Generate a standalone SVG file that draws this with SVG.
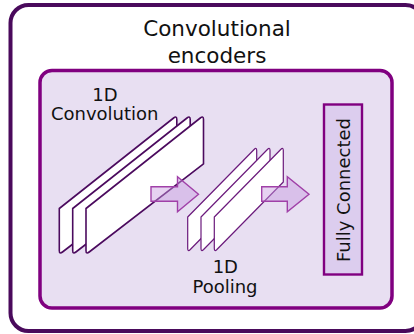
<svg xmlns="http://www.w3.org/2000/svg" width="414" height="334" viewBox="0 0 414 334">
  <style>
    text { font-family: "DejaVu Sans", Verdana, sans-serif; fill: #111; }
    .title { font-size: 21.5px; }
    .label { font-size: 18px; }
    .outer { fill: #ffffff; stroke: #4a0a5c; stroke-width: 4; }
    .inner { fill: #e8dff2; stroke: #800080; stroke-width: 3.5; }
    .conv { fill: #ffffff; stroke: #4b0a5e; stroke-width: 1.6; stroke-linejoin: round; }
    .pool { fill: #ffffff; stroke: #6b1a7c; stroke-width: 1.2; stroke-linejoin: round; }
    .fc { fill: #dccdee; stroke: #800080; stroke-width: 2.4; }
    .arrow { fill: #c79be0; fill-opacity: 0.45; stroke: #a040a8; stroke-width: 1.4; stroke-linejoin: miter; }
  </style>
  <defs>
    <!-- one 1D convolution feature sheet -->
    <path id="convSheet" d="M0,208.5 L0,250.5 Q0,254.5 3.2,252 L117.5,163.9 Q117.5,161.5 117.5,161.5 L117.5,119.5 Q117.5,115.5 114.3,118 Z"/>
    <!-- one 1D pooling feature sheet -->
    <path id="poolSheet" d="M0,217 L0,248.5 Q0,252 2.6,249.5 L69,182 L69,150.5 Q69,147 66.4,149.5 Z"/>
  </defs>

  <g id="encoder">
    <rect class="outer" x="10.5" y="5" width="413" height="326" rx="18"/>
    <text class="title" x="217" y="35.5" text-anchor="middle">Convolutional</text>
    <text class="title" x="217" y="62.5" text-anchor="middle">encoders</text>
  </g>

  <g id="stage">
    <rect class="inner" x="40" y="70.5" width="352" height="237.5" rx="12"/>
  </g>

  <g id="convolution">
    <use href="#convSheet" class="conv" x="59.3"/>
    <use href="#convSheet" class="conv" x="72.7"/>
    <use href="#convSheet" class="conv" x="86"/>
    <text class="label" x="105" y="101" text-anchor="middle">1D</text>
    <text class="label" x="104.7" y="120" text-anchor="middle">Convolution</text>
  </g>

  <g id="pooling">
    <use href="#poolSheet" class="pool" x="187.7"/>
    <use href="#poolSheet" class="pool" x="201"/>
    <use href="#poolSheet" class="pool" x="214.3"/>
    <text class="label" x="225.3" y="273.3" text-anchor="middle">1D</text>
    <text class="label" x="225" y="292.5" text-anchor="middle">Pooling</text>
  </g>

  <g id="fully-connected">
    <rect class="fc" x="324" y="104.5" width="38" height="170"/>
    <text class="label" transform="translate(349.5,190) rotate(-90)" text-anchor="middle">Fully Connected</text>
  </g>

  <g id="connectors">
    <path class="arrow" d="M151,186.7 L177.5,186.7 L177.5,176.7 L198.5,194.2 L177.5,211.7 L177.5,201.3 L151,201.3 Z"/>
    <path class="arrow" d="M261.7,186.7 L287.3,186.7 L287.3,176.7 L309,194.2 L287.3,211.7 L287.3,201.3 L261.7,201.3 Z"/>
  </g>
</svg>
